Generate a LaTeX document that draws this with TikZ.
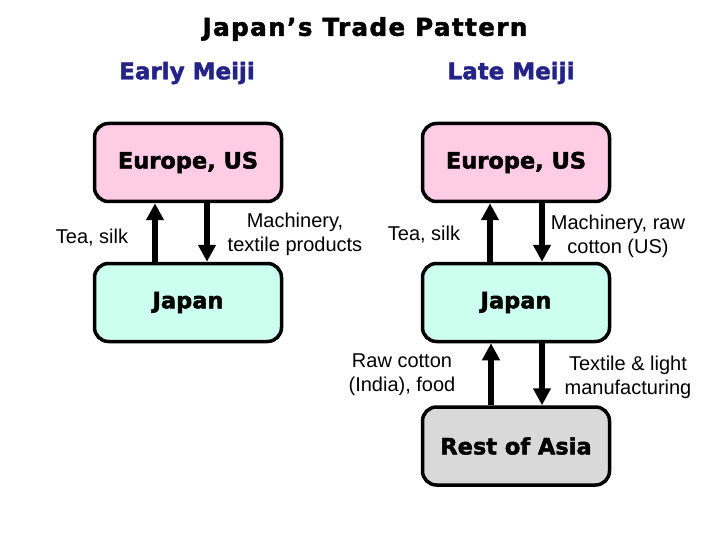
\documentclass[tikz,border=0pt]{standalone}
\usepackage{fontspec}
\setmainfont{Liberation Sans}
\newfontfamily\heavyfont{DejaVu Sans}[FakeBold=2]
\newfontfamily\titlefont{DejaVu Sans}[LetterSpace=6,FakeBold=2]
\usetikzlibrary{arrows.meta}
\definecolor{cpink}{RGB}{255,204,230}
\definecolor{caqua}{RGB}{204,255,238}
\definecolor{cgrey}{RGB}{217,217,217}
\definecolor{cnavy}{RGB}{36,36,136}
\tikzset{trade/.style={x=1pt,y=-1pt},
  region/.style={draw=black,line width=3.5pt,rounded corners=14pt,minimum width=187pt,minimum height=78pt,
    inner sep=0pt,font=\heavyfont\bfseries\fontsize{22.5}{26}\selectfont},
  goods/.style={align=center,font=\fontsize{20}{24}\selectfont},
  era/.style={text=cnavy,font=\heavyfont\bfseries\fontsize{23}{26}\selectfont},
  flow/.style={line width=6pt,-{Triangle[width=17pt,length=17pt]}}}

\begin{document}
\begin{tikzpicture}[trade]
    \useasboundingbox (0,0) rectangle (720,540);
    \node[font=\titlefont\bfseries\fontsize{24.5}{28}\selectfont] (title) at (365,29) {Japan’s Trade Pattern}; % title
    \node[era] (early) at (187,73) {Early Meiji};
    \node[era] (late) at (511,73) {Late Meiji};
    % early Meiji
    \node[region,fill=cpink] (eurA) at (188,162.5) {Europe, US};
    \node[region,fill=caqua] (jpnA) at (188,302.5) {Japan};
    \draw[flow] ([xshift=-33pt]jpnA.north) -- ([xshift=-33pt]eurA.south); % exports
    \draw[flow] ([xshift=19pt]eurA.south) -- ([xshift=19pt]jpnA.north); % imports
    \node[goods] (expA) at (92,238) {Tea, silk};
    \node[goods] (impA) at (295,234) {Machinery,\\textile products};
    % late Meiji
    \node[region,fill=cpink] (eurB) at (516,162.5) {Europe, US};
    \node[region,fill=caqua] (jpnB) at (516,302.5) {Japan};
    \node[region,fill=cgrey] (asia) at (516,446) {Rest of Asia};
    \draw[flow] ([xshift=-26pt]jpnB.north) -- ([xshift=-26pt]eurB.south);
    \draw[flow] ([xshift=26pt]eurB.south) -- ([xshift=26pt]jpnB.north);
    \draw[flow] ([xshift=-25pt]asia.north) -- ([xshift=-25pt]jpnB.south);
    \draw[flow] ([xshift=26pt]jpnB.south) -- ([xshift=26pt]asia.north);
    \node[goods] (expB) at (424,235) {Tea, silk};
    \node[goods] (impB) at (618,236) {Machinery, raw\\cotton (US)};
    \node[goods] (rawB) at (402,375) {Raw cotton\\(India), food};
    \node[goods] (mfgB) at (628,377) {Textile \& light\\manufacturing};
\end{tikzpicture}
\end{document}
